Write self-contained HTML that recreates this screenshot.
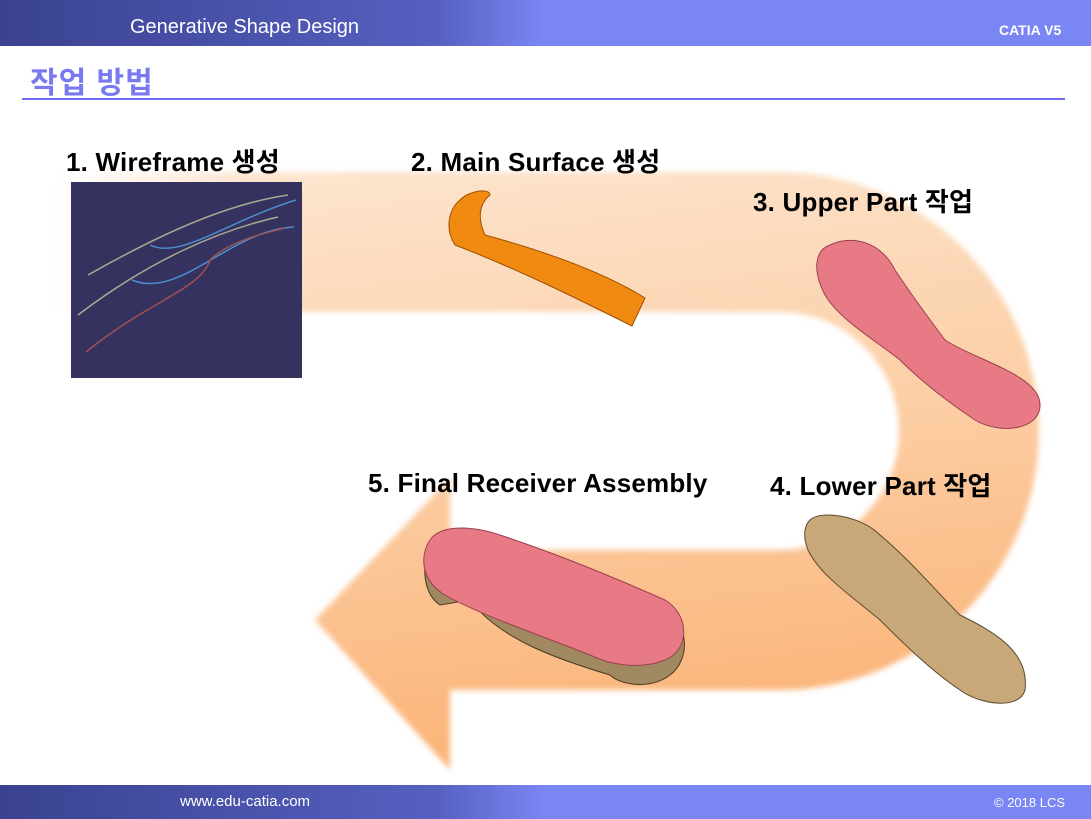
<!DOCTYPE html>
<html><head><meta charset="utf-8"><style>
body{margin:0;width:1091px;height:819px;overflow:hidden;background:#fff;font-family:"Liberation Sans","Noto Sans CJK KR",sans-serif;position:relative}
.t{position:absolute;font-weight:bold;font-size:26px;color:#000;white-space:nowrap;letter-spacing:0.2px}
</style></head><body>
<svg width="1091" height="819" style="position:absolute;left:0;top:0">
<defs>
<linearGradient id="hd" x1="0" x2="1"><stop offset="0" stop-color="#3a4290"/><stop offset="0.4" stop-color="#5660c0"/><stop offset="0.5" stop-color="#7a86f4"/><stop offset="1" stop-color="#7a86f4"/></linearGradient>
<linearGradient id="ar" x1="0" y1="0" x2="0.2" y2="1"><stop offset="0" stop-color="#fde6d2"/><stop offset="0.5" stop-color="#fcd0a8"/><stop offset="1" stop-color="#fbb57a"/></linearGradient>
<linearGradient id="fade" x1="0" x2="1"><stop offset="0" stop-color="#fff" stop-opacity="1"/><stop offset="1" stop-color="#fff" stop-opacity="0"/></linearGradient>
<filter id="bl"><feGaussianBlur stdDeviation="3"/></filter>
</defs>
<rect x="0" y="0" width="1091" height="46" fill="url(#hd)"/>
<rect x="0" y="785" width="1091" height="34" fill="url(#hd)"/>
<line x1="22" y1="99" x2="1065" y2="99" stroke="#6e6ef5" stroke-width="2"/>
<path d="M60 172 H780 A259 259 0 0 1 780 690 H450 V770 L315 620 L450 478 V550 H780 A119 119 0 0 0 780 312 H60 Z" fill="url(#ar)" filter="url(#bl)"/>
<rect x="55" y="165" width="200" height="155" fill="url(#fade)"/>
<rect x="71" y="182" width="231" height="196" fill="#35325f"/>
<g fill="none" stroke-width="1.5">
<path d="M88 275 C150 240 220 205 288 195" stroke="#a8a890"/>
<path d="M78 315 C150 260 220 230 278 217" stroke="#a8a890"/>
<path d="M150 245 C180 260 230 220 296 200" stroke="#4a8ed0"/>
<path d="M132 280 C180 300 230 230 294 227" stroke="#4a8ed0"/>
<path d="M86 352 C150 300 200 290 210 260 C230 240 270 232 285 228" stroke="#a05050"/>
</g>
<path d="M460 200 C470 190 490 188 490 195 C478 205 478 220 485 235 C540 250 600 270 645 298 L632 326 C580 300 520 270 455 245 C445 230 448 210 460 200Z" fill="#f08a10" stroke="#a05000"/>
<path d="M830 245 C850 235 880 240 895 270 C915 300 930 320 945 340 C975 360 1040 375 1040 405 C1040 430 1000 435 975 420 C945 400 920 380 900 360 C875 340 840 320 825 295 C812 270 815 250 830 245Z" fill="#e87a86" stroke="#9a4050"/>
<path d="M810 520 C820 510 860 515 880 535 C910 560 935 590 960 615 C990 630 1030 650 1025 690 C1020 710 980 705 960 690 C930 670 900 640 880 620 C850 595 820 575 808 550 C802 535 805 525 810 520Z" fill="#c8a878" stroke="#5a4a30"/>
<path d="M430 545 C440 530 470 530 500 540 C560 560 620 590 665 610 C690 625 690 660 670 675 C650 690 620 685 610 675 C560 660 500 640 470 600 L440 605 C425 595 420 570 430 545Z" fill="#a08860" stroke="#4a3a20"/>
<path d="M430 540 C440 525 470 525 500 535 C560 555 620 580 665 600 C690 615 690 650 665 660 C640 670 610 665 590 655 C540 635 480 615 445 595 C420 580 420 555 430 540Z" fill="#e87a86" stroke="#9a4050"/>
</svg>
<div style="position:absolute;left:130px;top:16px;color:#fff;font-size:20px">Generative Shape Design</div>
<div style="position:absolute;left:999px;top:22px;color:#fff;font-size:14px;font-weight:bold">CATIA V5</div>
<div style="position:absolute;left:30px;top:58px;color:#7a7af0;font-size:30px;font-weight:bold;letter-spacing:1px">작업 방법</div>
<div style="position:absolute;left:180px;top:793px;color:#fff;font-size:15px">www.edu-catia.com</div>
<div style="position:absolute;left:994px;top:795px;color:#fff;font-size:13px">© 2018 LCS</div>
<div class="t" style="left:66px;top:142px">1. Wireframe 생성</div>
<div class="t" style="left:411px;top:142px">2. Main Surface 생성</div>
<div class="t" style="left:753px;top:182px">3. Upper Part 작업</div>
<div class="t" style="left:770px;top:466px">4. Lower Part 작업</div>
<div class="t" style="left:368px;top:468px">5. Final Receiver Assembly</div>
</body></html>
